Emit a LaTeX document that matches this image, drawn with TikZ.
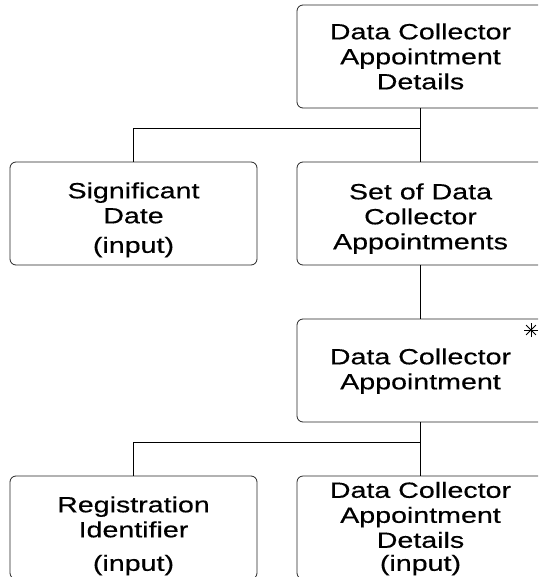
\documentclass[tikz,border=0pt]{standalone}
\usepackage{fontspec}
\newfontfamily\boxfont[FakeStretch=1.30,FakeBold=0.4]{Liberation Sans}
\begin{document}
\begin{tikzpicture}[x=1pt,y=-1pt,
  box/.style={draw=black!85, line width=0.8pt, rounded corners=6pt, minimum width=247pt, minimum height=103pt, inner sep=0pt},
  txt/.style={anchor=south, text depth=0pt, inner sep=0pt, align=center, font=\boxfont\fontsize{22}{25}\selectfont},
  conn/.style={draw=black, line width=0.8pt}]
\useasboundingbox (0,0) rectangle (538,577);
\clip (0,0) rectangle (538,577);
\fill[white] (0,0) rectangle (538,577);
% boxes
\node[box] (dcad) at (420.5,56.5) {};
\node[box] (sd) at (133.5,213.5) {};
\node[box] (sdca) at (420.5,213.5) {};
\node[box] (dca) at (420.5,370.5) {};
\node[box] (ri) at (133.5,527.5) {};
\node[box] (dcad2) at (420.5,527.5) {};
% texts
\node[txt] (dcad-t) at (420.5,89.5) {Data Collector\\Appointment\\Details};
\node[txt] (sd-t) at (133.5,223.5) {Significant\\Date};
\node[txt] (sd-i) at (133.5,253) {(input)};
\node[txt] (sdca-t) at (420.5,249.5) {Set of Data\\Collector\\Appointments};
\node[txt] (dca-t) at (420.5,389.5) {Data Collector\\Appointment};
\node[txt] (ri-t) at (133.5,537.5) {Registration\\Identifier};
\node[txt] (ri-i) at (133.5,571) {(input)};
\node[txt] (dcad2-t) at (420.5,548) {Data Collector\\Appointment\\Details};
\node[txt] (dcad2-i) at (420.5,571) {(input)};
% connectors
\coordinate (j1) at (420.5,128);
\coordinate (j2) at (420.5,442);
\draw[conn] (dcad.south) -- (sdca.north);
\draw[conn] (sd.north) |- (j1);
\draw[conn] (sdca.south) -- (dca.north);
\draw[conn] (dca.south) -- (dcad2.north);
\draw[conn] (ri.north) |- (j2);
% asterisk
\coordinate (ast) at (531,330);
\foreach \a in {0,45,90,135}{\draw[line width=0.8pt] (ast) ++(\a:7) -- ++(\a+180:14);}
\end{tikzpicture}
\end{document}
